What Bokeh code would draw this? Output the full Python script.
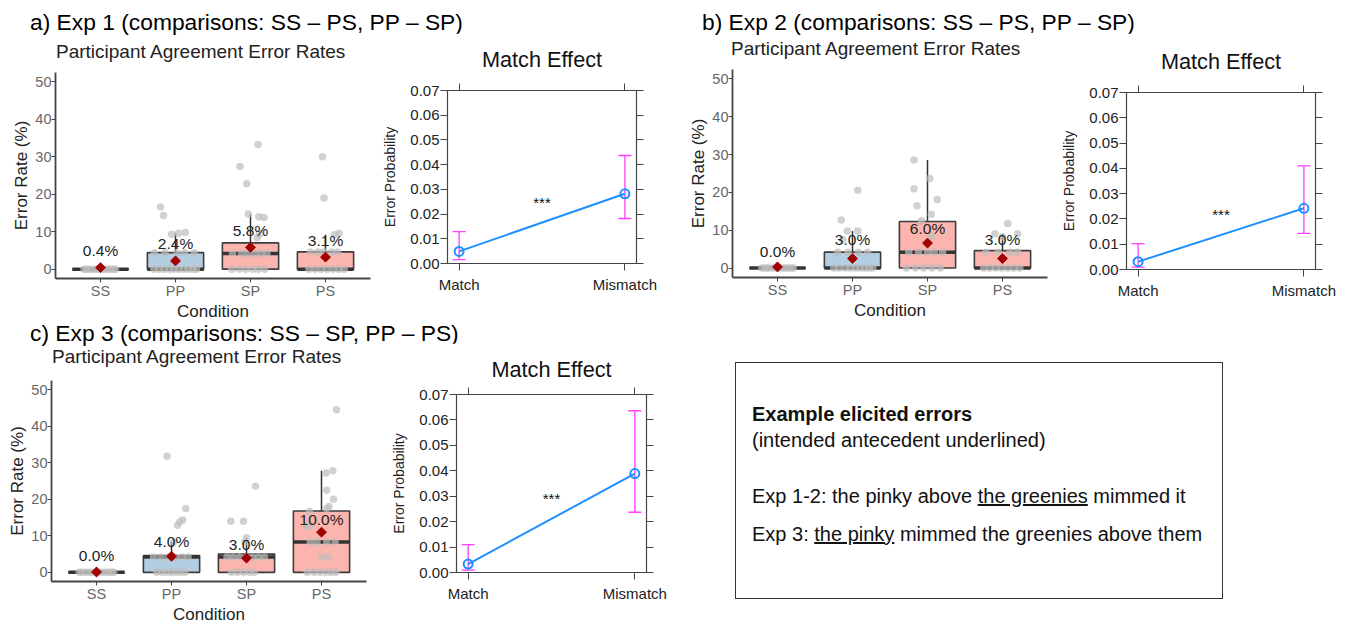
from bokeh.plotting import figure
from bokeh.models import (FactorRange, Range1d, FixedTicker, NumeralTickFormatter,
                          LinearAxis, Div, Whisker, TeeHead, ColumnDataSource, Spacer)
from bokeh.layouts import row, column
from bokeh.embed import file_html
from bokeh.resources import INLINE
from bokeh.core.properties import value

FONT = "Liberation Sans"

# ---------------- data ----------------
conditions = ["SS", "PP", "SP", "PS"]
box_colors = ["#B3CDE3", "#B3CDE3", "#FBB4AE", "#FBB4AE"]
rate_ticks = [0, 10, 20, 30, 40, 50]

# Exp 1 box statistics (%)
e1_q1 = [0, 0, 0, 0]
e1_med = [0, 0, 4.2, 0]
e1_q3 = [0, 4.4, 7.0, 4.6]
e1_whi = [0, 9.6, 14.7, 9.2]
e1_mean = [0.4, 2.2, 5.8, 3.2]
e1_label = [0.4, 2.4, 5.8, 3.1]
e1_SS_y = [0, 0, 0, 0, 0, 0, 0, 0, 0, 0, 0, 0]
e1_SS_dx = [-0.22, -0.16, -0.12, -0.07, -0.03, 0.02, 0.05, 0.09, 0.13, 0.17, 0.2, -0.19]
e1_PP_y = [0, 0, 0, 0, 0, 0, 0, 0, 0, 0, 4.4, 4.4, 4.4, 4.4, 4.4, 9.3, 9.6, 9.8, 14.3, 16.6]
e1_PP_dx = [-0.29, -0.22, -0.15, -0.08, -0.02, 0.04, 0.11, 0.17, 0.23, 0.28,
            -0.28, -0.14, 0.02, 0.12, 0.25, -0.05, 0.04, 0.13, -0.16, -0.2]
e1_SP_y = [0, 0, 0, 0, 0, 0, 4.2, 4.2, 4.2, 4.2, 4.2, 4.2, 8.4, 9.4, 13.8, 14.0, 14.7, 22.8, 27.4, 33.3]
e1_SP_dx = [-0.25, -0.15, -0.06, 0.03, 0.1, 0.19, -0.24, -0.12, -0.03, 0.06, 0.14, 0.22,
            0.09, 0.12, 0.18, 0.11, -0.03, -0.05, -0.14, 0.1]
e1_PS_y = [0, 0, 0, 0, 0, 0, 0, 4.6, 4.6, 4.6, 4.6, 4.6, 9.2, 9.6, 19.0, 30.0]
e1_PS_dx = [-0.22, -0.14, -0.06, 0.02, 0.1, 0.18, 0.25, -0.2, -0.1, -0.02, 0.08, 0.16,
            0.12, 0.18, -0.02, -0.04]

# Exp 2
e2_q1 = [0, 0, 0, 0]
e2_med = [0, 0, 4.2, 0]
e2_q3 = [0, 4.2, 12.3, 4.6]
e2_whi = [0, 9.8, 28.6, 9.1]
e2_mean = [0.3, 2.5, 6.6, 2.5]
e2_label = [0.0, 3.0, 6.0, 3.0]
e2_SS_y = [0, 0, 0, 0, 0, 0, 0, 0, 0, 0, 0, 0]
e2_SS_dx = [-0.21, -0.17, -0.11, -0.06, -0.02, 0.03, 0.06, 0.1, 0.14, 0.18, 0.21, -0.14]
e2_PP_y = [0, 0, 0, 0, 0, 0, 0, 0, 0, 4.2, 4.2, 4.2, 4.2, 7.5, 9.8, 9.8, 12.7, 20.6]
e2_PP_dx = [-0.25, -0.18, -0.1, -0.03, 0.04, 0.1, 0.16, 0.22, 0.27, -0.2, -0.06, 0.08, 0.2,
            -0.13, -0.07, 0.07, -0.15, 0.07]
e2_SP_y = [0, 0, 0, 0, 0, 4.2, 4.2, 4.2, 4.2, 4.2, 8.3, 12.5, 14.2, 16.5, 18.1, 21.0, 23.7, 28.6]
e2_SP_dx = [-0.28, -0.16, -0.05, 0.06, 0.17, -0.25, -0.12, 0.0, 0.09, 0.2, 0.05,
            -0.08, 0.05, -0.14, 0.13, -0.18, 0.03, -0.18]
e2_PS_y = [0, 0, 0, 0, 0, 0, 0, 4.2, 4.2, 4.2, 4.2, 8.3, 9.1, 9.1, 11.8]
e2_PS_dx = [-0.25, -0.17, -0.09, -0.01, 0.07, 0.15, 0.23, -0.22, -0.06, 0.1, 0.2, 0.0, -0.1, 0.2, 0.07]

# Exp 3
e3_q1 = [0, 0, 0, 0]
e3_med = [0, 4.2, 4.2, 8.3]
e3_q3 = [0, 4.6, 5.0, 16.8]
e3_whi = [0, 8.3, 9.5, 27.8]
e3_mean = [0.1, 4.4, 3.9, 11.0]
e3_label = [0.0, 4.0, 3.0, 10.0]
e3_SS_y = [0, 0, 0, 0, 0, 0, 0, 0, 0, 0, 0, 0]
e3_SS_dx = [-0.2, -0.15, -0.1, -0.06, -0.01, 0.03, 0.07, 0.12, 0.16, 0.2, -0.23, 0.23]
e3_PP_y = [0, 0, 0, 0, 0, 0, 0, 4.2, 4.2, 4.2, 4.2, 4.2, 4.2, 8.3, 12.9, 13.8, 14.3, 17.5, 31.8]
e3_PP_dx = [-0.2, -0.13, -0.07, 0.0, 0.06, 0.12, 0.18, -0.24, -0.14, -0.04, 0.05, 0.14, 0.22,
            0.03, 0.08, 0.11, 0.15, 0.19, -0.06]
e3_SP_y = [0, 0, 0, 0, 0, 4.2, 4.2, 4.2, 4.2, 4.2, 4.2, 4.2, 8.3, 9.5, 14.0, 14.0, 23.6]
e3_SP_dx = [-0.2, -0.12, -0.04, 0.04, 0.1, -0.26, -0.18, -0.09, 0.0, 0.08, 0.16, 0.24,
            -0.02, 0.0, -0.21, -0.04, 0.12]
e3_PS_y = [0, 0, 0, 0, 0, 0, 4.2, 4.2, 8.3, 8.3, 8.3, 8.3, 12.5, 12.9, 16.7, 17.5, 18.0, 20.0,
           22.5, 27.2, 27.8, 44.5]
e3_PS_dx = [-0.19, -0.1, -0.02, 0.06, 0.13, 0.19, 0.0, 0.09, -0.15, -0.06, 0.07, 0.18,
            -0.2, -0.16, -0.16, 0.07, 0.1, 0.16, 0.07, 0.06, 0.15, 0.2]

# Match-effect estimates (error probability)
match_levels = ["Match", "Mismatch"]
prob_ticks = [0.0, 0.01, 0.02, 0.03, 0.04, 0.05, 0.06, 0.07]
m1_est = [0.0049, 0.0282]
m1_lo = [0.0016, 0.0182]
m1_hi = [0.0129, 0.0437]
m2_est = [0.0031, 0.0242]
m2_lo = [0.0009, 0.0143]
m2_hi = [0.0102, 0.0410]
m3_est = [0.0033, 0.0389]
m3_lo = [0.0009, 0.0237]
m3_hi = [0.0110, 0.0636]

headings = ["a) Exp 1 (comparisons: SS \u2013 PS, PP \u2013 SP)",
            "b) Exp 2 (comparisons: SS \u2013 PS, PP \u2013 SP)",
            "c) Exp 3 (comparisons: SS \u2013 SP, PP \u2013 PS)"]
subtitle = "Participant Agreement Error Rates"

BLUE = "#1E8FFF"
MAG = "#FF3DFF"
DARK = "#333333"


def box_panel(q1, med, q3, whi, mean, lab, pts, w, h, bl, br, bt, bb):
    p = figure(width=w, height=h,
               x_range=FactorRange(factors=conditions, range_padding=0.1,
                                   range_padding_units="absolute"),
               y_range=Range1d(-2.5, 52.5),
               output_backend="svg", toolbar_location=None,
               min_border_left=bl, min_border_right=br, min_border_top=bt, min_border_bottom=bb)
    p.frame_align = False
    p.outline_line_color = None
    p.xgrid.grid_line_color = None
    p.ygrid.grid_line_color = None
    p.background_fill_color = "white"
    p.border_fill_color = "white"

    p.segment(x0=conditions, y0=q3, x1=conditions, y1=whi, line_color=DARK, line_width=1.5)
    p.vbar(x=conditions, bottom=q1, top=q3, width=0.75, fill_color=box_colors,
           line_color="#3d3d3d", line_width=1.6)
    p.segment(x0=[(c, -0.375) for c in conditions], y0=med,
              x1=[(c, 0.375) for c in conditions], y1=med,
              line_color=DARK, line_width=3.5)
    for c in conditions:
        dx, ys = pts[c]
        p.scatter(x=[(c, d) for d in dx], y=ys, size=7.5, fill_color="#BDBDBD",
                  line_color=None, fill_alpha=0.7)
    p.scatter(x=conditions, y=mean, marker="square", angle=0.785, size=7,
              fill_color="#A00000", line_color="#A00000")
    p.text(x=conditions, y=[v + 4.5 for v in lab], text=[f"{v:.1f}%" for v in lab],
           text_align="center", text_baseline="middle", text_font=value(FONT),
           text_font_size="15.5px", text_color="#222222")

    bottom = p.below[0]
    left = p.left[0]
    left.ticker = FixedTicker(ticks=rate_ticks)
    bottom.axis_label = "Condition"
    left.axis_label = "Error Rate (%)"
    for ax in (bottom, left):
        ax.axis_line_color = "#444444"
        ax.axis_line_width = 1.8
        ax.major_tick_line_color = "#444444"
        ax.major_tick_in = 0
        ax.major_tick_out = 4
        ax.minor_tick_line_color = None
        ax.major_label_text_font = FONT
        ax.major_label_text_font_size = "14.5px"
        ax.major_label_text_color = "#666666"
        ax.major_label_standoff = 0
        ax.axis_label_text_font = FONT
        ax.axis_label_text_font_size = "17px"
        ax.axis_label_text_font_style = "normal"
        ax.axis_label_text_color = "#222222"
        ax.axis_label_standoff = 1
    bottom.axis_label_standoff = 0
    return p


def match_panel(est, lo, hi, w, h, bl, br, bt, bb, tstand):
    xs = [i + 1 for i in range(len(match_levels))]
    p = figure(width=w, height=h, x_range=Range1d(0.93, 2.07), y_range=Range1d(0, 0.07),
               output_backend="svg", toolbar_location=None, title="Match Effect",
               min_border_left=bl, min_border_right=br, min_border_top=bt, min_border_bottom=bb)
    p.frame_align = False
    p.title.text_font = FONT
    p.title.text_font_size = "21.7px"
    p.title.text_font_style = "normal"
    p.title.text_color = "#111111"
    p.title.align = "center"
    p.title.standoff = tstand
    p.outline_line_color = "#444444"
    p.outline_line_width = 1.2
    p.xgrid.grid_line_color = None
    p.ygrid.grid_line_color = None
    p.background_fill_color = "white"
    p.border_fill_color = "white"

    src = ColumnDataSource(dict(x=xs, lo=lo, hi=hi))
    p.add_layout(Whisker(source=src, base="x", lower="lo", upper="hi", dimension="height",
                         line_color=MAG, line_width=1.3,
                         upper_head=TeeHead(size=13, line_color=MAG, line_width=1.3),
                         lower_head=TeeHead(size=13, line_color=MAG, line_width=1.3)))
    p.line(xs, est, line_color=BLUE, line_width=2)
    p.scatter(xs, est, marker="circle", size=9, fill_color=None, line_color=BLUE, line_width=2)
    p.text(x=[1.5], y=[(est[0] + est[1]) / 2 + 0.008], text=["***"], text_align="center",
           text_baseline="middle", text_font=value(FONT), text_font_size="15px",
           text_color="#111111")

    bottom = p.below[0]
    left = p.left[0]
    bottom.ticker = FixedTicker(ticks=xs)
    bottom.major_label_overrides = {x: lab for x, lab in zip(xs, match_levels)}
    left.ticker = FixedTicker(ticks=prob_ticks)
    left.formatter = NumeralTickFormatter(format="0.00")
    left.axis_label = "Error Probability"
    right = LinearAxis(ticker=FixedTicker(ticks=prob_ticks))
    top = LinearAxis(ticker=FixedTicker(ticks=xs))
    p.add_layout(right, "right")
    p.add_layout(top, "above")
    for ax in (bottom, left, right, top):
        ax.axis_line_color = None
        ax.major_tick_line_color = "#444444"
        ax.major_tick_in = 0
        ax.major_tick_out = 7
        ax.minor_tick_line_color = None
        ax.major_label_text_font = FONT
        ax.major_label_text_font_size = "15px"
        ax.major_label_text_color = "#222222"
        ax.axis_label_text_font = FONT
        ax.axis_label_text_font_size = "14px"
        ax.axis_label_text_font_style = "normal"
        ax.axis_label_text_color = "#222222"
        ax.axis_label_standoff = 9
    bottom.major_label_standoff = 5
    left.major_label_standoff = 1
    for ax in (right, top):
        ax.major_label_text_color = None
        ax.major_label_standoff = 0
    return p


def text_div(txt, size, lh, w, color):
    html = ("<div style=\"font-family:'Liberation Sans',Arial,sans-serif;font-size:%spx;"
            "line-height:%spx;white-space:nowrap;color:%s;\">%s</div>" % (size, lh, color, txt))
    return Div(text=html, width=w, height=lh, margin=0)


def heading(txt, lh=22):
    return text_div(txt, 22.8, lh, 640, "#000")


def sub_div():
    return text_div(subtitle, 19, 20, 310, "#222")


pts1 = {"SS": (e1_SS_dx, e1_SS_y), "PP": (e1_PP_dx, e1_PP_y),
        "SP": (e1_SP_dx, e1_SP_y), "PS": (e1_PS_dx, e1_PS_y)}
pts2 = {"SS": (e2_SS_dx, e2_SS_y), "PP": (e2_PP_dx, e2_PP_y),
        "SP": (e2_SP_dx, e2_SP_y), "PS": (e2_PS_dx, e2_PS_y)}
pts3 = {"SS": (e3_SS_dx, e3_SS_y), "PP": (e3_PP_dx, e3_PP_y),
        "SP": (e3_SP_dx, e3_SP_y), "PS": (e3_PS_dx, e3_PS_y)}

boxA = box_panel(e1_q1, e1_med, e1_q3, e1_whi, e1_mean, e1_label, pts1,
                 372, 261, 55, 2, 10, 43)
matchA = match_panel(m1_est, m1_lo, m1_hi, 308, 290, 75, 44, 54, 60, 23)
boxB = box_panel(e2_q1, e2_med, e2_q3, e2_whi, e2_mean, e2_label, pts2,
                 370, 264, 52, 3, 10, 46)
matchB = match_panel(m2_est, m2_lo, m2_hi, 300, 290, 76, 35, 59, 54, 24)
boxC = box_panel(e3_q1, e3_med, e3_q3, e3_whi, e3_mean, e3_label, pts3,
                 372, 259, 51, 6, 13, 42)
matchC = match_panel(m3_est, m3_lo, m3_hi, 308, 283, 84, 34, 51, 54, 12)

text_html = """
<div style="position:relative;box-sizing:border-box;width:488px;height:237px;border:1px solid #333;
font-family:'Liberation Sans',Arial,sans-serif;color:#111;white-space:nowrap;">
<div style="position:absolute;left:16px;top:38px;font-size:20px;line-height:26px;font-weight:bold;">Example elicited errors</div>
<div style="position:absolute;left:16px;top:64px;font-size:20px;line-height:26px;">(intended antecedent underlined)</div>
<div style="position:absolute;left:16px;top:120px;font-size:20px;line-height:26px;">Exp 1-2: the pinky above <u>the greenies</u> mimmed it</div>
<div style="position:absolute;left:16px;top:158px;font-size:20px;line-height:26px;">Exp 3: <u>the pinky</u> mimmed the greenies above them</div>
</div>
"""
textbox = Div(text=text_html, width=488, height=237, margin=0)

colA = column(Spacer(width=10, height=11),
              row(Spacer(width=30, height=22), heading(headings[0])),
              row(column(Spacer(width=10, height=9),
                         row(Spacer(width=56, height=20), sub_div()),
                         boxA),
                  matchA))
colB = column(Spacer(width=10, height=11),
              row(Spacer(width=22, height=22), heading(headings[1])),
              row(column(Spacer(width=10, height=6),
                         row(Spacer(width=51, height=20), sub_div()),
                         boxB),
                  matchB))
colC = column(row(Spacer(width=30, height=20), heading(headings[2], 20)),
              row(column(Spacer(width=10, height=4),
                         row(Spacer(width=52, height=20), sub_div()),
                         boxC),
                  matchC))
colT = column(Spacer(width=10, height=39), row(Spacer(width=55, height=237), textbox))
root = column(row(colA, colB), row(colC, colT))

open("out.html", "w").write(file_html(root, INLINE))
